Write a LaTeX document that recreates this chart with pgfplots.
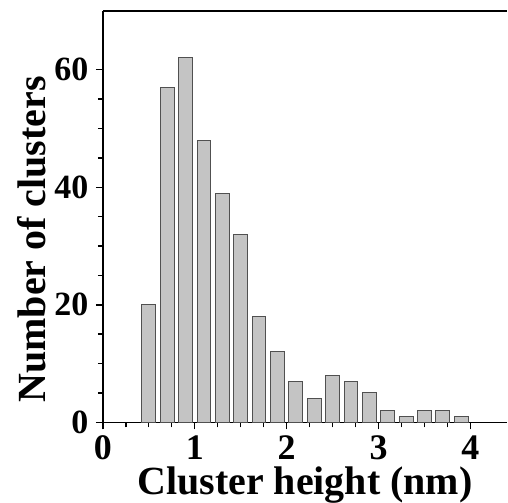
\documentclass[border=0pt]{standalone}
\usepackage{fontspec}
\setmainfont{Liberation Serif}
\usepackage{pgfplots}
\pgfplotsset{compat=1.18}

\definecolor{barfill}{HTML}{C4C4C4}
\definecolor{baredge}{HTML}{505050}

\begin{document}
\begin{tikzpicture}
\begin{axis}[
  name=ax,
  scale only axis,
  width=405pt, height=412pt,
  xmin=0, xmax=4.4,
  ymin=0, ymax=70,
  axis x line=box,
  axis y line=left,
  axis line style={-, line width=1.6pt},
  xtick pos=bottom,
  ytick pos=left,
  xtick={0,1,2,3,4},
  ytick={0,20,40,60},
  minor tick num=3,
  tick align=outside,
  major tick length=7pt,
  minor tick length=5pt,
  every tick/.style={black, line width=1.4pt},
  /pgf/number format/assume math mode=true,
  xticklabel style={font=\fontsize{36}{40}\selectfont\bfseries, yshift=-3pt},
  yticklabel style={font=\fontsize{34}{38}\selectfont\bfseries, xshift=-4pt},
  xlabel={Cluster height (nm)},
  ylabel={Number of clusters},
  label style={font=\fontsize{40}{44}\selectfont\bfseries, inner sep=0pt},
  xlabel style={at={(axis description cs:0.5,0)}, anchor=north, yshift=-44pt},
  ylabel style={at={(axis description cs:-0.14,0.445)}, anchor=south},
  clip=false,
]
\addplot[ybar, bar width=0.15, fill=barfill, draw=baredge, line width=1pt]
coordinates {
  (0.5,20) (0.7,57) (0.9,62) (1.1,48) (1.3,39) (1.5,32)
  (1.7,18) (1.9,12) (2.1,7) (2.3,4) (2.5,8) (2.7,7)
  (2.9,5) (3.1,2) (3.3,1) (3.5,2) (3.7,2) (3.9,1)
};
\end{axis}
\path ([xshift=-103pt,yshift=11pt]ax.north west) rectangle ([yshift=-78pt]ax.south east);
\end{tikzpicture}
\end{document}
